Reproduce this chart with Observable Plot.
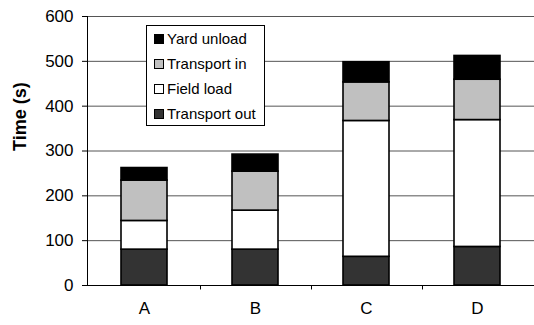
<!DOCTYPE html>
<html>
<head>
<meta charset="utf-8">
<script src="https://cdn.jsdelivr.net/npm/d3@7"></script>
<script src="https://cdn.jsdelivr.net/npm/@observablehq/plot@0.6"></script>
<style>
  html, body { margin: 0; padding: 0; background: #fff; }
  #wrap { position: relative; width: 534px; height: 325px; font-family: "Liberation Sans", Arial, sans-serif; }
  #legend { position: absolute; left: 146px; top: 25px; width: 119px; height: 101px; box-sizing: border-box;
            border: 1px solid #000; background: #fff; font-size: 15px; padding: 0 0 0 7px; }
  #legend .row { display: flex; align-items: center; height: 25px; }
  #legend .sw { width: 10px; height: 10px; border: 1px solid #000; margin-right: 3px; box-sizing: border-box; }
</style>
</head>
<body>
<div id="wrap"></div>
<script>
const categories = ["A", "B", "C", "D"];
const seriesNames = ["Transport out", "Field load", "Transport in", "Yard unload"];
const transportOut = [80, 80, 64, 86];
const fieldLoad = [64, 87, 303, 283];
const transportIn = [90, 87, 86, 90];
const yardUnload = [28, 38, 45, 53];
const colors = ["#333333", "#ffffff", "#c0c0c0", "#000000"];
const yTicks = [0, 100, 200, 300, 400, 500, 600];
const legendOrder = ["Yard unload", "Transport in", "Field load", "Transport out"];

const seriesValues = [transportOut, fieldLoad, transportIn, yardUnload];
const data = [];
seriesNames.forEach((s, i) => categories.forEach((c, j) => data.push({cat: c, series: s, value: seriesValues[i][j]})));

const chart = Plot.plot({
  width: 534,
  height: 325,
  marginLeft: 87,
  marginRight: 0,
  marginTop: 16,
  marginBottom: 40,
  style: {fontFamily: "'Liberation Sans', Arial, sans-serif", fontSize: "16px", color: "#000", background: "#fff"},
  x: {domain: categories, paddingInner: 0.59, paddingOuter: 0.295, label: null},
  y: {domain: [0, 600], ticks: yTicks, label: null},
  color: {domain: seriesNames, range: colors},
  marks: [
    Plot.gridY(yTicks, {stroke: "#555", strokeOpacity: 1}),
    Plot.barY(data, {x: "cat", y: "value", fill: "series", order: seriesNames, stroke: "#000", strokeWidth: 1.6}),
    Plot.ruleY([0], {stroke: "#000"}),
    Plot.axisY(yTicks, {tickSize: 5, tickPadding: 9, fontSize: 17, label: null}),
    Plot.ruleX(categories.slice(0, -1), {x: d => d, dx: 56, y1: 0, y2: -10, stroke: "#000"}),
    Plot.axisX({tickSize: 0, tickPadding: 16, fontSize: 17, label: null}),
    Plot.text(["Time (s)"], {frameAnchor: "left", dx: -67, rotate: -90, fontWeight: "bold", fontSize: 18, text: d => d})
  ]
});
document.getElementById("wrap").appendChild(chart);
// y axis line
d3.select(chart).append("line")
  .attr("x1", 87.5).attr("x2", 87.5).attr("y1", 16).attr("y2", 285).attr("stroke", "#000");

const legend = document.createElement("div");
legend.id = "legend";
legendOrder.forEach(name => {
  const row = document.createElement("div");
  row.className = "row";
  const sw = document.createElement("span");
  sw.className = "sw";
  sw.style.background = colors[seriesNames.indexOf(name)];
  const t = document.createElement("span");
  t.textContent = name;
  row.appendChild(sw); row.appendChild(t);
  legend.appendChild(row);
});
document.getElementById("wrap").appendChild(legend);
</script>
</body>
</html>
